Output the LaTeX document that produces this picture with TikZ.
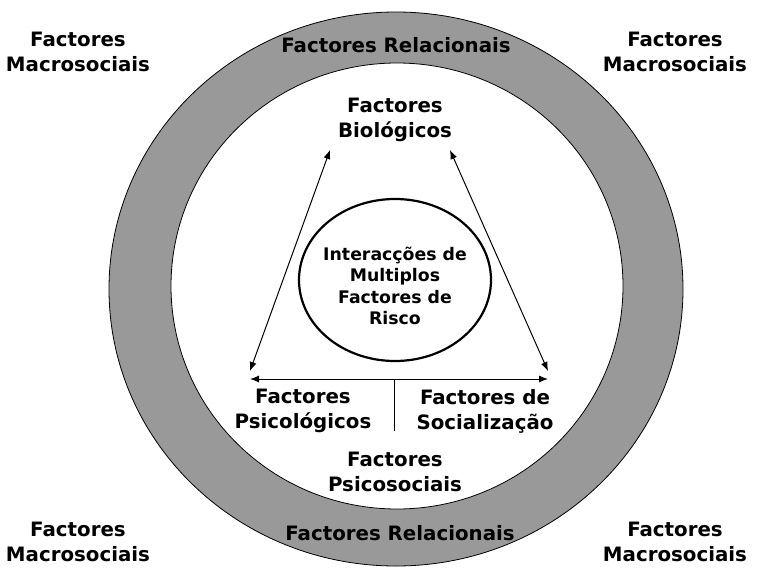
\documentclass[tikz,border=0pt]{standalone}
\usepackage{fontspec}
\setmainfont{DejaVu Sans}[BoldFont=DejaVu Sans Bold]
\usetikzlibrary{arrows.meta}
\begin{document}
\begin{tikzpicture}[x=1pt,y=-1pt,
  lbl/.style={font=\bfseries\fontsize{19.8}{25}\selectfont, align=center, inner sep=0pt},
  ctr/.style={font=\bfseries\fontsize{17.3}{21.5}\selectfont, align=center, inner sep=0pt},
  arr/.style={line width=1pt, {Latex[length=9pt,width=7pt]}-{Latex[length=9pt,width=7pt]}},
  ring/.style={draw=black, line width=0.8pt}]
\useasboundingbox (0,0) rectangle (758,568);
% rings
\path[ring, fill={rgb,255:red,153;green,153;blue,153}] (396,289) ellipse [x radius=287, y radius=277];
\path[ring, fill=white] (397,286) ellipse [x radius=226, y radius=223];
\path[draw=black, line width=2.2pt] (395,280) ellipse [x radius=96, y radius=81];
% texts
\node[lbl] (ml1) at (78,52) {Factores\\Macrosociais};
\node[lbl] (mr1) at (675,52) {Factores\\Macrosociais};
\node[lbl] (ml2) at (78,542) {Factores\\Macrosociais};
\node[lbl] (mr2) at (675,542) {Factores\\Macrosociais};
\node[lbl] (rt) at (396,45) {Factores Relacionais};
\node[lbl] (rb) at (400,533) {Factores Relacionais};
\node[lbl] (bio) at (395,120) {Factores\\Biológicos};
\node[lbl] (psi) at (303,411) {Factores\\Psicológicos};
\node[lbl] (soc) at (485,411) {Factores de\\Socialização};
\node[lbl] (pss) at (395,472) {Factores\\Psicosociais};
\node[ctr] (int) at (395,286) {Interacções de\\Multiplos\\Factores de\\Risco};
% connectors
\coordinate (bl) at (330,150);
\coordinate (br) at (450,150);
\coordinate (pl) at (250,371);
\coordinate (pr) at (548,371);
\coordinate (hl) at (250,379);
\coordinate (hr) at (548,379);
\coordinate (vt) at (394,379);
\coordinate (vb) at (394,431);
\draw[arr] (bl) -- (pl);
\draw[arr] (br) -- (pr);
\draw[arr] (hl) -- (hr);
\draw[line width=1pt] (vt) -- (vb);
\end{tikzpicture}
\end{document}
